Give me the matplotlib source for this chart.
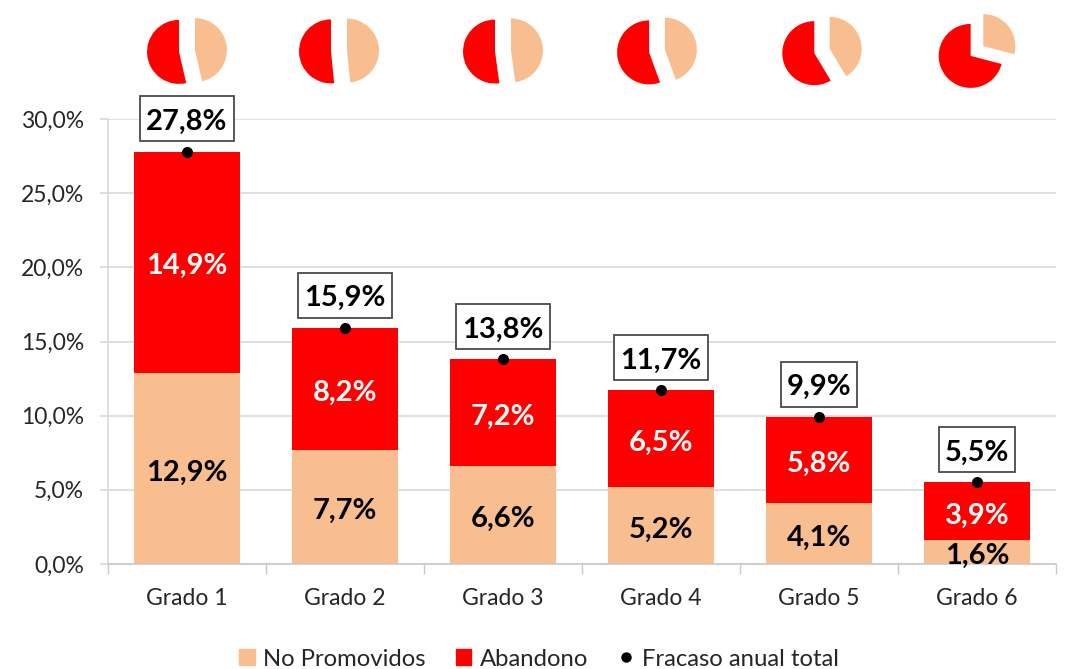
import numpy as np
import matplotlib
matplotlib.use("Agg")
import matplotlib.pyplot as plt
from matplotlib.lines import Line2D
from matplotlib.patches import Patch, Rectangle

grados = ["Grado 1", "Grado 2", "Grado 3", "Grado 4", "Grado 5", "Grado 6"]
no_promovidos = [12.9, 7.7, 6.6, 5.2, 4.1, 1.6]
abandono = [14.9, 8.2, 7.2, 6.5, 5.8, 3.9]
fracaso_total = [27.8, 15.9, 13.8, 11.7, 9.9, 5.5]
yticks = [0, 5, 10, 15, 20, 25, 30]

color_np = "#F9BE8F"
color_ab = "#FF0000"
color_eje = "#D9D9D9"

plt.rcParams["font.family"] = ["Lato", "DejaVu Sans"]

W, H = 1066, 669
fig = plt.figure(figsize=(W / 100, H / 100), dpi=100)

# ejes principales, en pixeles de la imagen
x0, x1, y_top, y_bot = 108, 1056, 119, 564
ax = fig.add_axes([x0 / W, 1 - y_bot / H, (x1 - x0) / W, (y_bot - y_top) / H])


def coma(v):
    return f"{v:.1f}".replace(".", ",") + "%"


ax.set_xlim(-0.5, 5.5)
ax.set_ylim(0, 30)

x = np.arange(len(grados))
ax.bar(x, no_promovidos, width=0.665, color=color_np, zorder=2)
ax.bar(x, abandono, width=0.665, bottom=no_promovidos, color=color_ab, zorder=2)
ax.scatter(x, fracaso_total, s=48, color="black", zorder=7, clip_on=False)

renderer = fig.canvas.get_renderer()
for i in x:
    ax.annotate(coma(no_promovidos[i]), (i, no_promovidos[i] / 2), xytext=(0, -3), textcoords="offset points",
                ha="center", va="center", fontsize=21, fontweight="bold", color="black", zorder=5)
    ax.annotate(coma(abandono[i]), (i, no_promovidos[i] + abandono[i] / 2), xytext=(0, -3),
                textcoords="offset points", ha="center", va="center", fontsize=21, fontweight="bold",
                color="white", zorder=5)
    t = ax.annotate(coma(fracaso_total[i]), (i, fracaso_total[i]), xytext=(0, 21.5), textcoords="offset points",
                    ha="center", va="center", fontsize=21, fontweight="bold", color="black", zorder=6.5,
                    annotation_clip=False)
    # caja del total, el ancho sale del texto y lo demas en pixeles desde el punto
    ancho = t.get_window_extent(renderer).width + 12
    px, py = ax.transData.transform((i, fracaso_total[i]))
    ax.add_patch(Rectangle((px - ancho / 2, py + 10.5), ancho, 45, transform=None, fc="white", ec="#4A4A4A",
                           lw=1.3, zorder=6, clip_on=False))

ax.set_yticks(yticks)
ax.set_yticklabels([coma(v) for v in yticks], fontsize=16.5, color="#262626")
ax.set_xticks(x)
ax.set_xticklabels(grados, fontsize=16.5, color="#262626")
ax.set_xticks(np.arange(-0.5, 6), minor=True)
ax.tick_params(axis="x", which="major", length=0, pad=17)
ax.tick_params(axis="x", which="minor", length=7, color="#C8C8C8", width=1)
ax.tick_params(axis="y", length=5.8, color=color_eje, width=1.2, pad=11.5)
ax.grid(axis="y", color=color_eje, lw=1.2, zorder=0)
ax.set_axisbelow(True)
for s in ["top", "right"]:
    ax.spines[s].set_visible(False)
ax.spines["left"].set_color(color_eje)
ax.spines["left"].set_linewidth(1.2)
ax.spines["bottom"].set_color("#C8C8C8")
ax.spines["bottom"].set_linewidth(1.2)

# tortas de arriba, no estan alineadas exacto con las barras
pie_cx = [187, 339, 503, 657, 822, 977]
r_px = 32
lado = 120
for i in x:
    cx = pie_cx[i]
    cy = 51
    pax = fig.add_axes([(cx - lado / 2) / W, 1 - (cy + lado / 2) / H, lado / W, lado / H])
    pax.pie([no_promovidos[i], abandono[i]], colors=[color_np, color_ab], startangle=90,
            counterclock=False, explode=[0.25, 0.25], radius=1)
    pax.set_xlim(-lado / 2 / r_px, lado / 2 / r_px)
    pax.set_ylim(-lado / 2 / r_px, lado / 2 / r_px)
    pax.axis("off")

handles = [
    Patch(color=color_np, label="No Promovidos"),
    Patch(color=color_ab, label="Abandono"),
    Line2D([], [], marker="o", color="black", ls="", ms=6.5, label="Fracaso anual total"),
]
fig.legend(handles=handles, ncol=3, loc="center", bbox_to_anchor=(539 / W, 1 - 659 / H), frameon=False,
           fontsize=17.2, handlelength=0.65, handleheight=0.65, handletextpad=0.35, columnspacing=1.25,
           labelcolor="#262626", borderpad=0)

fig.savefig("out.png", dpi=100)
